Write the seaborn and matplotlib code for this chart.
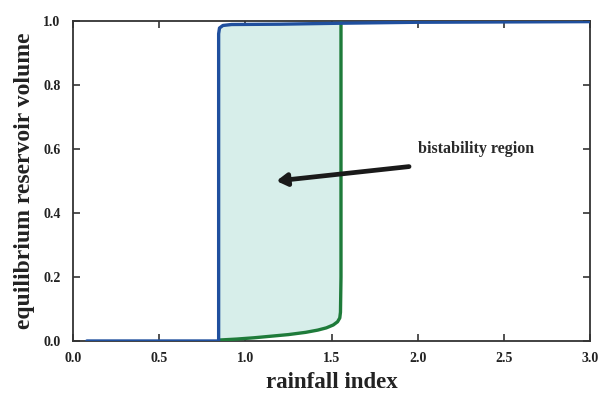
import numpy as np
import pandas as pd
import matplotlib
matplotlib.use("Agg")
import matplotlib.pyplot as plt
import seaborn as sns

# upper/jump-down branch (blue)
blue_x = [0.08, 0.50, 0.845, 0.845, 0.85, 0.87, 0.92, 1.20, 1.55, 2.00, 3.00]
blue_y = [0.000, 0.000, 0.000, 0.960, 0.978, 0.986, 0.989, 0.990, 0.993, 0.996, 0.998]
# lower/jump-up branch (green)
green_x = [0.85, 0.95, 1.05, 1.15, 1.25, 1.35, 1.42, 1.47, 1.51, 1.535, 1.548, 1.552, 1.555, 1.555]
green_y = [0.003, 0.006, 0.010, 0.015, 0.020, 0.027, 0.034, 0.041, 0.050, 0.060, 0.072, 0.090, 0.200, 0.995]
# shaded bistability region
fill_x = [0.85, 0.95, 1.05, 1.15, 1.25, 1.35, 1.42, 1.47, 1.51, 1.535, 1.548, 1.552]
fill_low = [0.003, 0.006, 0.010, 0.015, 0.020, 0.027, 0.034, 0.041, 0.050, 0.060, 0.072, 0.090]
fill_high = [0.986, 0.989, 0.989, 0.990, 0.990, 0.991, 0.991, 0.992, 0.992, 0.993, 0.993, 0.993]

x_ticks = [0.0, 0.5, 1.0, 1.5, 2.0, 2.5, 3.0]
y_ticks = [0.0, 0.2, 0.4, 0.6, 0.8, 1.0]
annotation = "bistability region"

sns.set_theme(style="ticks")
plt.rcParams['font.family'] = ['Liberation Serif', 'DejaVu Serif']

fig = plt.figure(figsize=(6.01, 3.99), dpi=100)
ax = fig.add_axes([0.1215, 0.1454, 0.8602, 0.8020])

ax.fill_between(fill_x, fill_low, fill_high, color="#d7eeea", linewidth=0, zorder=1)

bdf = pd.DataFrame({"x": blue_x, "y": blue_y})
gdf = pd.DataFrame({"x": green_x, "y": green_y})
sns.lineplot(data=gdf, x="x", y="y", sort=False, estimator=None, color="#1e7b3a",
             linewidth=2.4, ax=ax, zorder=3)
sns.lineplot(data=bdf, x="x", y="y", sort=False, estimator=None, color="#1f4f9e",
             linewidth=2.4, ax=ax, zorder=4)

ax.annotate("", xy=(1.18, 0.50), xytext=(1.95, 0.545),
            arrowprops=dict(arrowstyle="-|>,head_length=0.5,head_width=0.3",
                            color="#1a1a1a", lw=3.4, shrinkA=0, shrinkB=0), zorder=5)
ax.text(2.0, 0.60, annotation, fontsize=11.5, fontweight="bold", color="#2a2a2a",
        ha="left", va="center")

ax.set_xlim(0, 3.0)
ax.set_ylim(0, 1.0)
ax.set_xticks(x_ticks)
ax.set_yticks(y_ticks)
ax.set_xticklabels([f"{v:.1f}" for v in x_ticks], fontsize=10, fontweight="bold")
ax.set_yticklabels([f"{v:.1f}" for v in y_ticks], fontsize=10, fontweight="bold")
ax.tick_params(axis="x", pad=8)
ax.tick_params(axis="y", pad=9)
ax.tick_params(direction="in", length=5, width=1.2, top=True, right=True,
               colors="#333333", labelcolor="#222222")
for s in ax.spines.values():
    s.set_visible(True)
    s.set_color("#333333")
    s.set_linewidth(1.3)

ax.set_xlabel("rainfall index", fontsize=16.5, fontweight="bold", color="#222222", labelpad=5)
ax.set_ylabel("equilibrium reservoir volume", fontsize=17, fontweight="bold",
              color="#222222", labelpad=6)

fig.savefig("out.png", dpi=100)
